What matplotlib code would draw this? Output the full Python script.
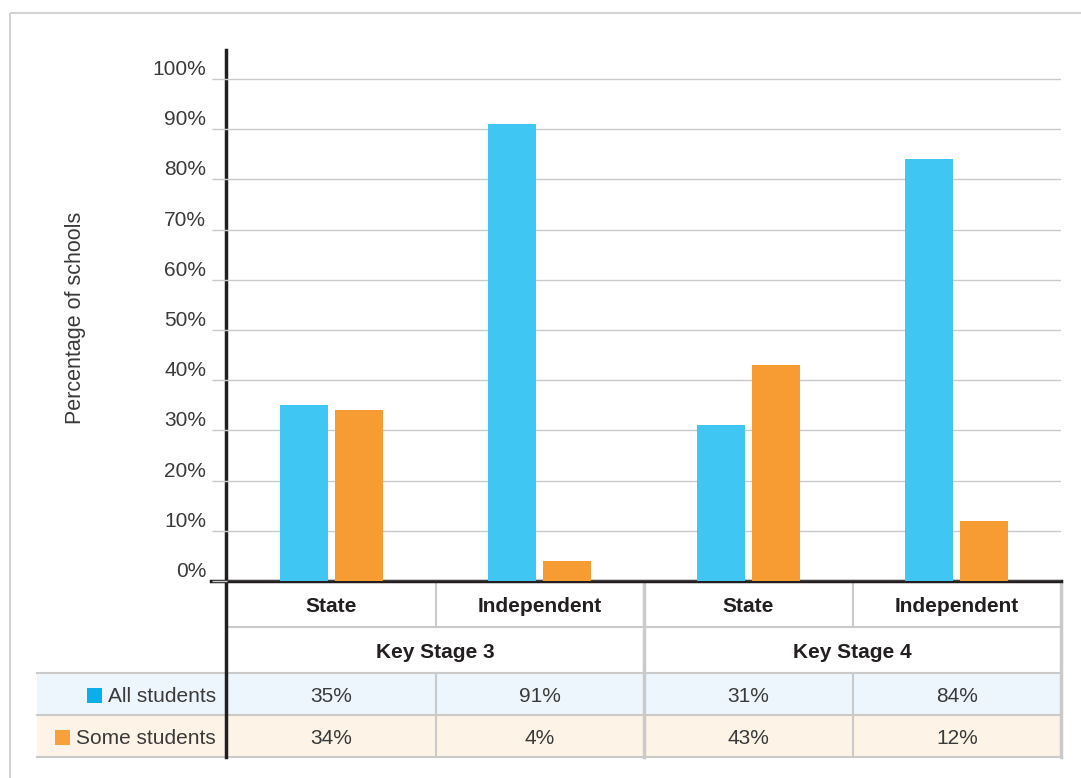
import matplotlib.pyplot as plt
from matplotlib.lines import Line2D
from matplotlib.patches import Rectangle

plt.rcParams["font.family"] = ["Liberation Sans", "DejaVu Sans"]

# Data
schools = ["State", "Independent", "State", "Independent"]
stages = ["Key Stage 3", "Key Stage 4"]
series = ["All students", "Some students"]
all_students = [35, 91, 31, 84]
some_students = [34, 4, 43, 12]
y_ticks = [0, 10, 20, 30, 40, 50, 60, 70, 80, 90, 100]

BLUE = "#40c6f2"
ORANGE = "#f69c32"
KEY_BLUE = "#0aaeea"
KEY_ORANGE = "#f7a13a"
GRID = "#cacaca"
DARK = "#231f20"
TEXT = "#3a3a3a"
ROW_BG = ["#eef6fd", "#fdf3e6"]

W, H = 1081, 778
fig = plt.figure(figsize=(W / 100, H / 100), dpi=100)

# overlay in pixel coordinates for frame / table
ov = fig.add_axes([0, 0, 1, 1], zorder=0)
ov.set_xlim(0, W)
ov.set_ylim(H, 0)
ov.axis("off")

# main bar axes
x_left, x_right, y_zero, y_top = 227, 1061, 581, 50
ax = fig.add_axes([x_left / W, 1 - y_zero / H, (x_right - x_left) / W, (y_zero - y_top) / H],
                  zorder=2)
ax.patch.set_alpha(0)
for s in ax.spines.values():
    s.set_visible(False)

xs = list(range(len(schools)))
bw, off = 0.23, 0.132
ax.bar([x - off for x in xs], all_students, bw, color=BLUE, zorder=3)
ax.bar([x + off for x in xs], some_students, bw, color=ORANGE, zorder=3)
ax.set_xlim(-0.5, len(schools) - 0.5)
ax.set_ylim(0, 105.8)
ax.set_xticks([])
ax.set_yticks(y_ticks)
ax.set_yticklabels([f"{v}%" for v in y_ticks])
ax.tick_params(axis="y", length=11, width=1, color=GRID, pad=4,
               labelsize=15, labelcolor=TEXT)
for lab in ax.get_yticklabels():
    lab.set_verticalalignment("bottom")
ax.grid(axis="y", color=GRID, lw=1, zorder=0)

ov.text(75, 318, "Percentage of schools", rotation=90, ha="center", va="center",
        fontsize=15.5, color=TEXT)

# outer frame
ov.add_patch(Rectangle((10, 13), W + 20, H + 20, fill=False, ec="#d2d2d2", lw=1.5))

# table geometry
col_w = (x_right - x_left) / len(schools)
edges = [x_left + col_w * k for k in range(len(schools) + 1)]
rows = [582, 627, 673, 715, 757]
label_left = 37

for i, bg in enumerate(ROW_BG):
    ov.add_patch(Rectangle((label_left, rows[2 + i]), x_right - label_left,
                           rows[3 + i] - rows[2 + i], color=bg, lw=0))

def hline(y, x0, x1, **kw):
    ov.add_line(Line2D([x0, x1], [y, y], **kw))

def vline(x, y0, y1, **kw):
    ov.add_line(Line2D([x, x], [y0, y1], **kw))

hline(rows[1], x_left, x_right, color=GRID, lw=1.5)
for y in rows[2:]:
    hline(y, label_left, x_right, color=GRID, lw=1.5)
for k in (1, 3):
    vline(edges[k], rows[0], rows[1], color=GRID, lw=1.5)
    vline(edges[k], rows[2], rows[4], color=GRID, lw=1.5)
vline(edges[2], rows[0], rows[4], color=GRID, lw=2.5)
vline(edges[4], rows[0], rows[4], color=GRID, lw=2.5)

# axis lines
vline(225.5, 50, rows[4], color=DARK, lw=2.5, zorder=5)
hline(y_zero, 211, x_right, color=DARK, lw=2.5, zorder=5)

centers = [(edges[k] + edges[k + 1]) / 2 for k in range(len(schools))]
for c, name in zip(centers, schools):
    ov.text(c, (rows[0] + rows[1]) / 2 + 2, name, ha="center", va="center",
            fontsize=15, fontweight="bold", color=DARK)
for j, st in enumerate(stages):
    ov.text((edges[2 * j] + edges[2 * j + 2]) / 2, (rows[1] + rows[2]) / 2 + 2, st,
            ha="center", va="center", fontsize=15, fontweight="bold", color=DARK)
for i, vals in enumerate([all_students, some_students]):
    yc = (rows[2 + i] + rows[3 + i]) / 2 + 2
    for c, v in zip(centers, vals):
        ov.text(c, yc, f"{v}%", ha="center", va="center", fontsize=15, color=TEXT)

# row labels with colour keys
labels = []
for i, name in enumerate(series):
    yc = (rows[2 + i] + rows[3 + i]) / 2 + 2
    labels.append(ov.text(216, yc, name, ha="right", va="center",
                          fontsize=15, color=TEXT))
fig.canvas.draw()
inv = ov.transData.inverted()
for t, col in zip(labels, [KEY_BLUE, KEY_ORANGE]):
    bb = t.get_window_extent()
    x0 = inv.transform((bb.x0, bb.y0))[0]
    yc = (inv.transform((bb.x0, bb.y0))[1] + inv.transform((bb.x0, bb.y1))[1]) / 2
    ov.add_patch(Rectangle((x0 - 21, yc - 7.5), 15, 15, color=col, lw=0))

fig.savefig("out.png", dpi=100)
